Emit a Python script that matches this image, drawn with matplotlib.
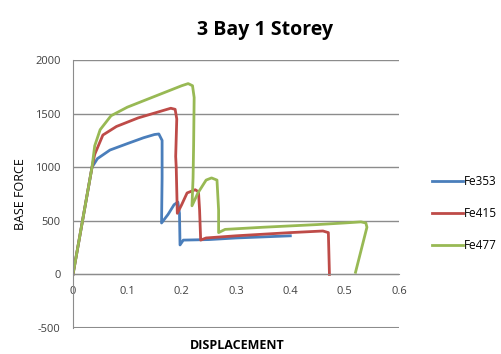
import matplotlib
matplotlib.use('Agg')
import matplotlib.pyplot as plt

# Pushover curves: displacement vs base force
fe353_x = [0, 0.035, 0.045, 0.068, 0.1, 0.13, 0.15, 0.158, 0.164, 0.164, 0.163, 0.175, 0.186, 0.193, 0.196, 0.197, 0.203, 0.25, 0.3, 0.35, 0.4]
fe353_y = [0, 1000, 1080, 1160, 1220, 1275, 1305, 1310, 1250, 900, 480, 560, 650, 675, 570, 275, 320, 325, 340, 350, 360]

fe415_x = [0, 0.035, 0.04, 0.055, 0.08, 0.12, 0.16, 0.18, 0.188, 0.191, 0.189, 0.19, 0.192, 0.2, 0.21, 0.225, 0.231, 0.233, 0.235, 0.245, 0.3, 0.4, 0.46, 0.47, 0.472]
fe415_y = [0, 1000, 1120, 1300, 1380, 1460, 1520, 1550, 1540, 1450, 1100, 1000, 570, 650, 760, 790, 770, 600, 320, 340, 360, 390, 405, 390, 0]

fe477_x = [0, 0.035, 0.04, 0.05, 0.07, 0.1, 0.15, 0.2, 0.212, 0.22, 0.223, 0.222, 0.221, 0.219, 0.23, 0.245, 0.255, 0.265, 0.268, 0.268, 0.28, 0.35, 0.45, 0.5, 0.53, 0.539, 0.541, 0.535, 0.52]
fe477_y = [0, 1000, 1200, 1350, 1480, 1560, 1660, 1760, 1780, 1760, 1650, 1200, 900, 640, 760, 880, 900, 880, 600, 390, 420, 440, 465, 480, 490, 480, 440, 320, 20]

series = [
    ('Fe353', fe353_x, fe353_y, '#4a7ebb'),
    ('Fe415', fe415_x, fe415_y, '#be4b48'),
    ('Fe477', fe477_x, fe477_y, '#98b954'),
]

plt.rcParams['font.family'] = ['Open Sans', 'DejaVu Sans']
plt.rcParams['axes.unicode_minus'] = False

fig = plt.figure(figsize=(5.02, 3.54), dpi=100)
ax = fig.add_axes([0.1454, 0.0734, 0.6494, 0.7571])

for name, xs, ys, col in series:
    ax.plot(xs, ys, color=col, linewidth=2, label=name, solid_joinstyle='round')

ax.set_xlim(0, 0.6)
ax.set_ylim(-500, 2000)
ax.set_xticks([0, 0.1, 0.2, 0.3, 0.4, 0.5, 0.6])
ax.set_xticklabels(['0', '0.1', '0.2', '0.3', '0.4', '0.5', '0.6'])
ax.set_yticks([-500, 0, 500, 1000, 1500, 2000])

ax.yaxis.grid(True, color='#8c8c8c', linewidth=1)
ax.set_axisbelow(True)
ax.axhline(-500, color='#8c8c8c', linewidth=1.5)

ax.spines['bottom'].set_position(('data', 0))
ax.spines['bottom'].set_color('#8c8c8c')
ax.spines['left'].set_color('#8c8c8c')
ax.spines['top'].set_visible(False)
ax.spines['right'].set_visible(False)
ax.tick_params(length=0, labelsize=8, labelcolor='#404040')
ax.tick_params(axis='y', pad=9)
ax.tick_params(axis='x', pad=8)

ax.set_ylabel('BASE FORCE', fontsize=9, labelpad=6)
fig.text(0.472, 0.025, 'DISPLACEMENT', ha='center', va='center', fontsize=9, fontweight='bold')
fig.text(0.528, 0.915, '3 Bay 1 Storey', ha='center', va='center', fontsize=14, fontweight='bold')

ax.legend(loc='center left', bbox_to_anchor=(1.069, 0.426), frameon=False,
          fontsize=8.5, handlelength=2.6, handletextpad=0.1, labelspacing=1.6)

fig.savefig('out.png', dpi=100)
